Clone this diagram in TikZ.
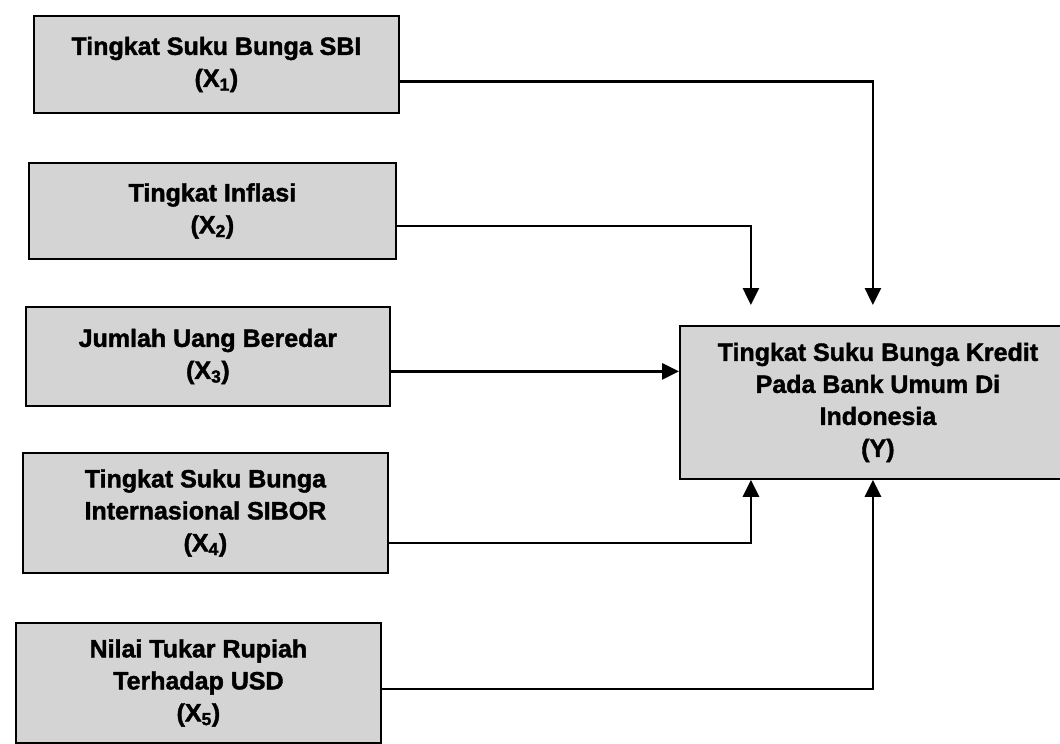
\documentclass[tikz,border=0pt]{standalone}
\usepackage{fontspec}
\setmainfont{Liberation Sans}
\newfontfamily\heavyfont{Liberation Sans}[BoldFeatures={FakeBold=1.6}]
\usetikzlibrary{arrows.meta}
\begin{document}
\begin{tikzpicture}[x=1pt,y=-1pt,
  varbox/.style={draw=black, line width=1.8pt, fill=black!17, anchor=north west,
    align=center, inner sep=2pt,
    font=\heavyfont\bfseries\fontsize{25}{32}\selectfont},
  conn/.style={line width=2.8pt, -{Triangle[width=16pt,length=17pt]}}
]
\useasboundingbox (0,0) rectangle (1060,744);
\node[varbox, minimum width=365pt, minimum height=97pt] (x1) at (33,15)
  {Tingkat Suku Bunga SBI\\(X\textsubscript{1})};
\node[varbox, minimum width=367pt, minimum height=96pt] (x2) at (28,162)
  {Tingkat Inflasi\\(X\textsubscript{2})};
\node[varbox, minimum width=364pt, minimum height=99pt] (x3) at (25,306)
  {Jumlah Uang Beredar\\(X\textsubscript{3})};
\node[varbox, minimum width=365pt, minimum height=120pt] (x4) at (22,452)
  {Tingkat Suku Bunga\\Internasional SIBOR\\(X\textsubscript{4})};
\node[varbox, minimum width=365pt, minimum height=120pt] (x5) at (15,622)
  {Nilai Tukar Rupiah\\Terhadap USD\\(X\textsubscript{5})};
\node[varbox, minimum width=396pt, minimum height=153pt] (y) at (679,325)
  {Tingkat Suku Bunga Kredit\\Pada Bank Umum Di\\Indonesia\\(Y)};
\coordinate (s1) at ([yshift=-17pt]x1.east);
\coordinate (s2) at ([yshift=-15pt]x2.east);
\coordinate (s3) at ([yshift=-15pt]x3.east);
\coordinate (s4) at ([yshift=-30pt]x4.east);
\coordinate (s5) at ([yshift=-6pt]x5.east);
\coordinate (t1) at ([xshift=-5pt,yshift=20pt]y.north);
\coordinate (t2) at ([xshift=-127pt,yshift=20pt]y.north);
\coordinate (t4) at ([xshift=-127pt]y.south);
\coordinate (t5) at ([xshift=-5pt]y.south);
\draw[conn] (s1) -| (t1);
\draw[conn] (s2) -| (t2);
\draw[conn] (s3) -- (s3 -| y.west);
\draw[conn] (s4) -| (t4);
\draw[conn] (s5) -| (t5);
\end{tikzpicture}
\end{document}
